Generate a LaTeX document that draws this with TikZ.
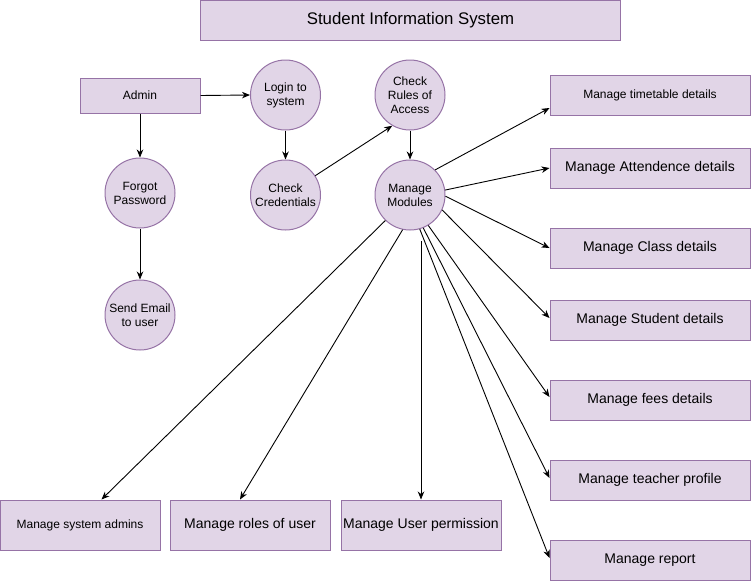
\documentclass[tikz,border=0pt]{standalone}
\usepackage{fontspec}
\setmainfont{Liberation Sans}
\usetikzlibrary{arrows.meta}
\definecolor{boxfill}{HTML}{E1D5E7}
\definecolor{boxline}{HTML}{9673A6}
\begin{document}
\begin{tikzpicture}[x=1pt,y=1pt,
  base/.style={fill=boxfill,draw=boxline,line width=1pt,align=center,inner sep=0pt},
  rbox/.style={base,rectangle,minimum height=40pt,font=\fontsize{14}{16}\selectfont},
  circ/.style={base,circle,minimum size=70pt,font=\fontsize{12}{14}\selectfont},
  conn/.style={line width=0.9pt,-{Stealth[length=8pt,width=6.5pt,inset=2.5pt]}}
]
\useasboundingbox (0,0) rectangle (751,-581);
% title
\node[rbox,minimum width=420pt,font=\fontsize{16.8}{19}\selectfont] (title) at (410.5,-20) {Student Information System};
% left part
\node[rbox,minimum width=120pt,minimum height=35pt,font=\fontsize{12}{14}\selectfont] (admin) at (140,-95.5) {Admin};
\node[circ] (login) at (285.5,-95) {Login to\\system};
\node[circ] (cred) at (285.5,-195) {Check\\Credentials};
\node[circ] (rules) at (410,-95) {Check\\Rules of\\Access};
\node[circ] (mm) at (410,-195) {Manage\\Modules};
\node[circ] (forgot) at (140,-193) {Forgot\\Password};
\node[circ] (email) at (140,-315) {Send Email\\to user};
% right boxes
\node[rbox,minimum width=200pt,font=\fontsize{12}{14}\selectfont] (tt) at (650,-95) {Manage timetable details};
\node[rbox,minimum width=200pt] (att) at (650,-168) {Manage Attendence details};
\node[rbox,minimum width=200pt] (cls) at (650,-248) {Manage Class details};
\node[rbox,minimum width=200pt] (stu) at (650,-320) {Manage Student details};
\node[rbox,minimum width=200pt] (fees) at (650,-400) {Manage fees details};
\node[rbox,minimum width=200pt] (tea) at (650,-480) {Manage teacher profile};
\node[rbox,minimum width=200pt] (rep) at (650,-560) {Manage report};
% bottom boxes
\node[rbox,minimum width=160pt,minimum height=50pt,font=\fontsize{12}{14}\selectfont] (sys) at (80,-525) {Manage system admins};
\node[rbox,minimum width=160pt,minimum height=50pt] (roles) at (250,-525) {Manage roles of user};
\node[rbox,minimum width=160pt,minimum height=50pt] (perm) at (421,-525) {Manage User permission};
\coordinate (permstart) at (421,-241);
% connectors
\draw[conn] (admin.east) -- (login.west);
\draw[conn] (admin.south) -- (forgot.north);
\draw[conn] (forgot.south) -- (email.north);
\draw[conn] (login.south) -- (cred.north);
\draw[conn] (cred.33) -- (rules.240);
\draw[conn] (rules.south) -- (mm.north);
\draw[conn] (mm.45) -- ([yshift=-13pt]tt.west);
\draw[conn] (mm.8) -- (att.west);
\draw[conn] (mm.-2) -- (cls.west);
\draw[conn] (mm.-25) -- ([yshift=2pt]stu.west);
\draw[conn] (mm.-59) -- ([yshift=3pt]fees.west);
\draw[conn] (mm.-68) -- ([yshift=2pt]tea.west);
\draw[conn] (mm.-74) -- ([yshift=2pt]rep.west);
\draw[conn] (permstart) -- (perm.north);
\draw[conn] (mm.-102) -- ([xshift=-10pt]roles.north);
\draw[conn] (mm.-134) -- ([xshift=21.5pt]sys.north);
\end{tikzpicture}
\end{document}
